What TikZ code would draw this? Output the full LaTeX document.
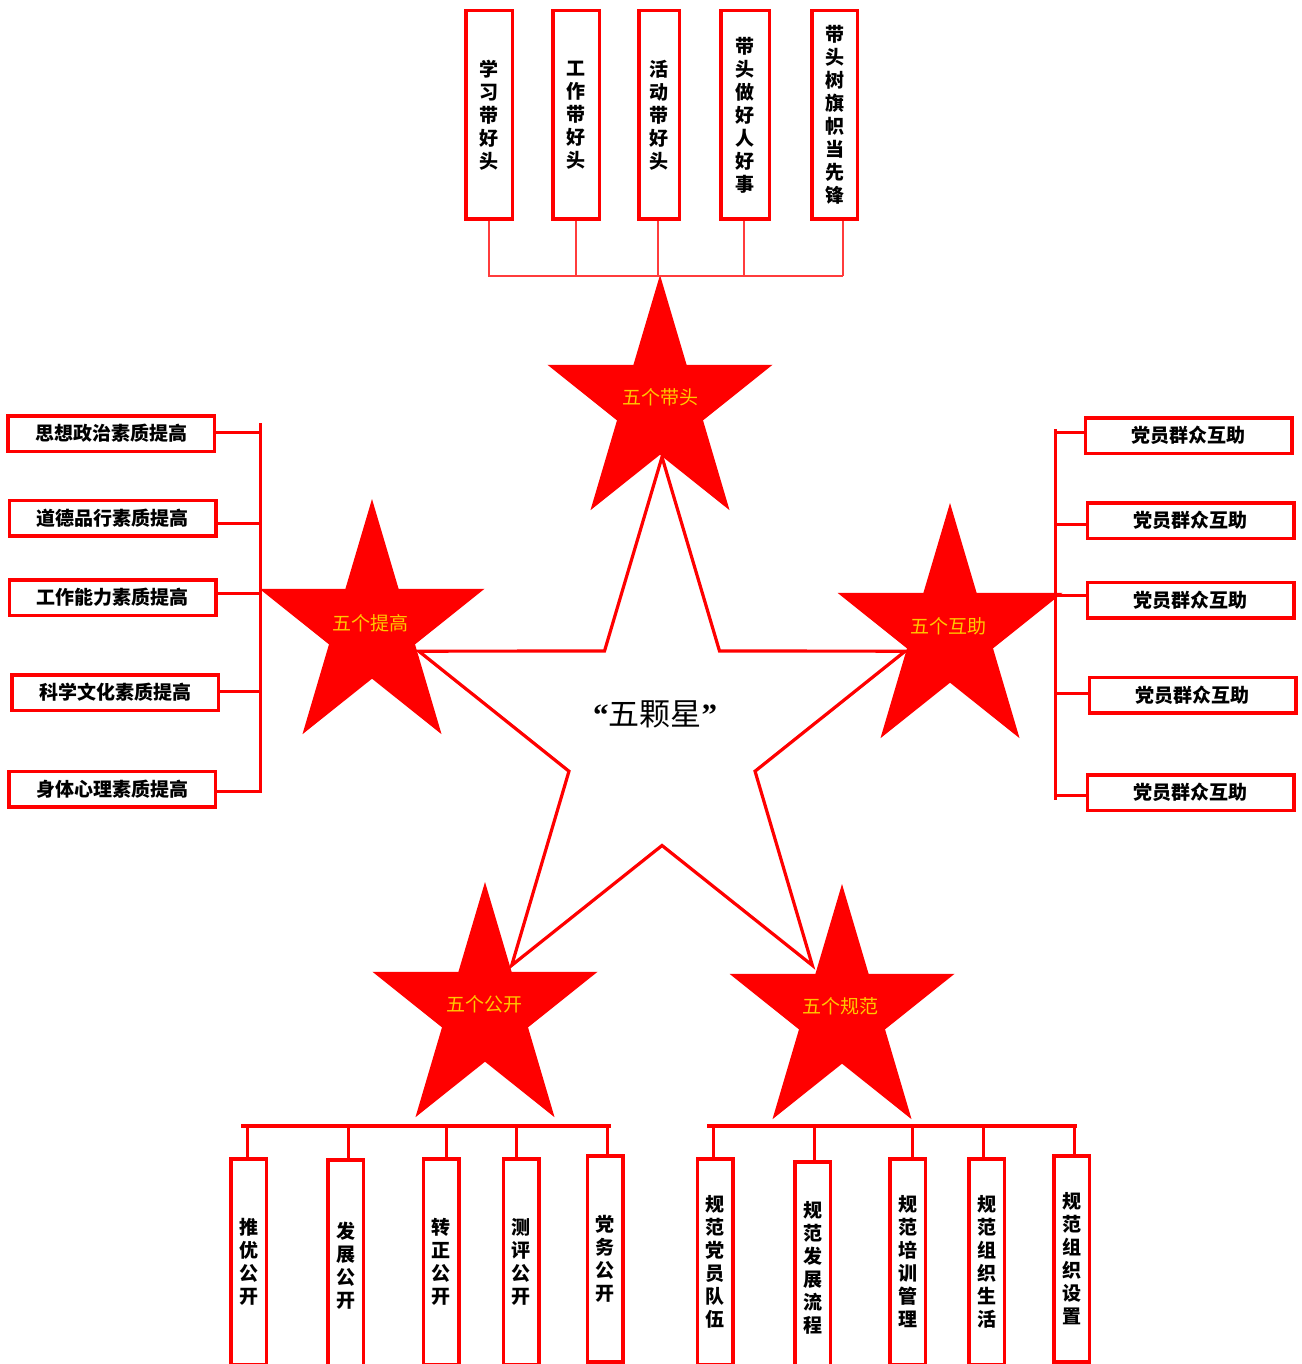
\documentclass[tikz,border=0pt]{standalone}
\usepackage{fontspec}
\setmainfont{Liberation Serif}
\newfontfamily\cjk{Noto Sans CJK SC}
\definecolor{stargold}{RGB}{255,200,0}
\definecolor{twigred}{RGB}{255,60,60}

\begin{document}
\begin{tikzpicture}[
            x = 1pt,
            y = -1pt,
            line join = miter
        ]

        \tikzset{
            box/.style = {
                draw = red,
                line width = 3.5pt,
                fill = white,
                inner sep = 0pt,
                align = center,
                font = \cjk\bfseries\fontsize{19}{23}\selectfont
            },
            tallbox/.style = {box, minimum height = 208.5pt},
            vbox/.style = {box, minimum width = 35.5pt, minimum height = 206pt},
            hbox/.style = {box, minimum width = 206.5pt, minimum height = 35.5pt},
            starlabel/.style = {text = stargold, font = \cjk\fontsize{19}{20}\selectfont},
            bus/.style = {red, line width = 3pt},
            twig/.style = {twigred, line width = 1.5pt},
            redstar/.pic = {
                \fill[red] (-90:130) \foreach \a in {-90,-18,54,126,198} {-- (\a+36:49.7) -- (\a+72:130)} -- cycle;
            }
        }

        \useasboundingbox (0,0) rectangle (1301,1364);

        % big outline star
        \begin{scope}[shift={(662,738)}, xscale=0.91]
            \draw[red, line width=3.2pt] (-90:281) \foreach \a in {-90,-18,54,126,198} {-- (\a+36:107.5) -- (\a+72:281)} -- cycle;
        \end{scope}

        % five red stars
        \pic[xscale=0.91] at (660,405) {redstar};
        \pic[xscale=0.91] at (372,629) {redstar};
        \pic[xscale=0.91] at (950,633) {redstar};
        \pic[xscale=0.91] at (485,1012) {redstar};
        \pic[xscale=0.91] at (842,1014) {redstar};

        \node[starlabel] (daitou) at (660,397) {五个带头};
        \node[starlabel] (tigao) at (370,623) {五个提高};
        \node[starlabel] (huzhu) at (948,626) {五个互助};
        \node[starlabel] (gongkai) at (484,1004) {五个公开};
        \node[starlabel] (guifan) at (840,1006) {五个规范};

        \node[font=\fontsize{31}{33}\selectfont] (wukexing) at (655,714) {{\bfseries “}{\cjk 五颗星}{\bfseries ”}};

        % top
        \node[tallbox, minimum width=46.5pt] (xuexi) at (489,115) {学\\习\\带\\好\\头};
        \node[tallbox, minimum width=46.5pt] (gongzuo) at (576,115) {工\\作\\带\\好\\头};
        \node[tallbox, minimum width=40.5pt] (huodong) at (659,115) {活\\动\\带\\好\\头};
        \node[tallbox, minimum width=48.5pt] (haoshi) at (745,115) {带\\头\\做\\好\\人\\好\\事};
        \node[tallbox, minimum width=45.5pt] (qizhi) at (834.5,115) {带\\头\\树\\旗\\帜\\当\\先\\锋};

        \coordinate (topL) at (488,276);
        \coordinate (topR) at (843,276);
        \draw[twig] (topL) -- (topR);
        \foreach \n/\s in {xuexi/0, gongzuo/0, huodong/-1, haoshi/-1, qizhi/8.5} {
            \coordinate (stub) at ([xshift=\s pt]\n.south);
            \draw[twig] (stub) -- (stub |- topL);
        }

        % left
        \node[hbox] (sixiang) at (111,433.5) {思想政治素质提高};
        \node[hbox] (daode) at (112.5,518) {道德品行素质提高};
        \node[hbox] (nengli) at (112.5,597.5) {工作能力素质提高};
        \node[hbox] (wenhua) at (115,692.5) {科学文化素质提高};
        \node[hbox] (xinli) at (112,789) {身体心理素质提高};

        \coordinate (leftT) at (260,423);
        \coordinate (leftB) at (260,793);
        \draw[bus] (leftT) -- (leftB);
        \foreach \n/\s in {sixiang/1.5, daode/-5, nengli/4.5, wenhua/1.5, xinli/-2} {
            \coordinate (stub) at ([yshift=\s pt]\n.east);
            \draw[bus] (stub) -- ([xshift=1.5pt]stub -| leftT);
        }

        % right
        \node[hbox] (hz1) at (1188.5,435.5) {党员群众互助};
        \node[hbox] (hz2) at (1190.5,520.5) {党员群众互助};
        \node[hbox] (hz3) at (1190.5,600) {党员群众互助};
        \node[hbox] (hz4) at (1192.5,695) {党员群众互助};
        \node[hbox] (hz5) at (1190.5,792.5) {党员群众互助};

        \coordinate (rightT) at (1055,429);
        \coordinate (rightB) at (1055,800);
        \draw[bus] (rightT) -- (rightB);
        \foreach \n/\s in {hz1/3.5, hz2/-3.5, hz3/5, hz4/2, hz5/-2.5} {
            \coordinate (stub) at ([yshift=\s pt]\n.west);
            \draw[bus] (stub) -- ([xshift=-1.5pt]stub -| rightT);
        }

        % bottom left
        \node[vbox] (tuiyou) at (248.5,1261.75) {推\\优\\公\\开};
        \node[vbox, minimum height=212pt] (fazhan) at (345.5,1265.75) {发\\展\\公\\开};
        \node[vbox] (zhuanzheng) at (441,1261.75) {转\\正\\公\\开};
        \node[vbox] (ceping) at (521,1261.75) {测\\评\\公\\开};
        \node[vbox] (dangwu) at (605,1259) {党\\务\\公\\开};

        \coordinate (blL) at (241,1126);
        \coordinate (blR) at (611,1126);
        \draw[bus, line width=3.5pt] (blL) -- (blR);
        \foreach \n/\s in {tuiyou/-1.5, fazhan/2.5, zhuanzheng/5, ceping/-5, dangwu/2} {
            \coordinate (stub) at ([xshift=\s pt]\n.north);
            \draw[bus] (stub) -- (stub |- blL);
        }

        % bottom right
        \node[vbox] (duiwu) at (715,1261.75) {规\\范\\党\\员\\队\\伍};
        \node[vbox, minimum height=212pt] (liucheng) at (812.5,1267.75) {规\\范\\发\\展\\流\\程};
        \node[vbox] (peixun) at (907.5,1261.75) {规\\范\\培\\训\\管\\理};
        \node[vbox] (shenghuo) at (986.5,1261.75) {规\\范\\组\\织\\生\\活};
        \node[vbox] (shezhi) at (1071.5,1259) {规\\范\\组\\织\\设\\置};

        \coordinate (brL) at (707,1126);
        \coordinate (brR) at (1077,1126);
        \draw[bus, line width=3.5pt] (brL) -- (brR);
        \foreach \n/\s in {duiwu/-2, liucheng/1.5, peixun/4.5, shenghuo/-3.5, shezhi/2.5} {
            \coordinate (stub) at ([xshift=\s pt]\n.north);
            \draw[bus] (stub) -- (stub |- brL);
        }

    \end{tikzpicture}
\end{document}
